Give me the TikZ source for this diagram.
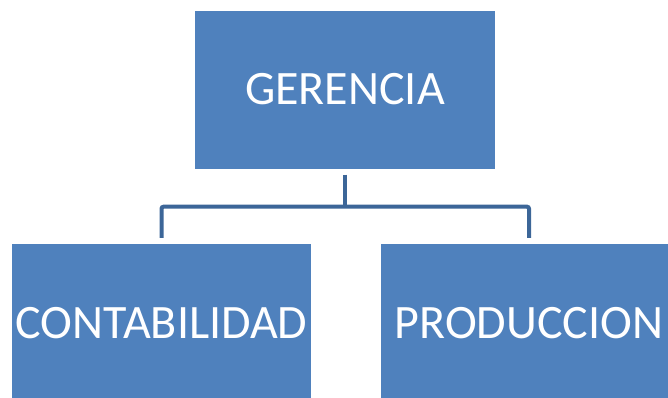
\documentclass[tikz,border=0pt]{standalone}
\usepackage{fontspec}
\setmainfont{Carlito}
\usepackage{tikz}
\usetikzlibrary{positioning}

\definecolor{boxblue}{HTML}{4F81BD}
\definecolor{lineblue}{HTML}{3C6698}

\begin{document}
\begin{tikzpicture}[x=1pt, y=-1pt,
		unit/.style={rectangle, fill=boxblue, text=white, inner sep=0pt, minimum height=158pt, font=\fontsize{48}{58}\selectfont},
		conn/.style={draw=lineblue, line width=4pt, rounded corners=2pt}]
				\clip (0, 0) rectangle (668, 397);
				\node[unit, minimum width=300pt] (Ger) at (345, 89.5) {GERENCIA};
				\node[unit, minimum width=299pt] (Con) at (161.5, 323) {CONTABILIDAD};
				\node[unit, minimum width=296pt] (Pro) at (529, 323) {PRODUCCION};
				\coordinate (J) at ([yshift=-38pt]Ger.south);
				\draw[conn] ([yshift=-6pt]Ger.south) -- (J);
				\draw[conn] ([yshift=6pt]Con.north) |- (J) -| ([yshift=6pt]Pro.north);
			\end{tikzpicture}
\end{document}
